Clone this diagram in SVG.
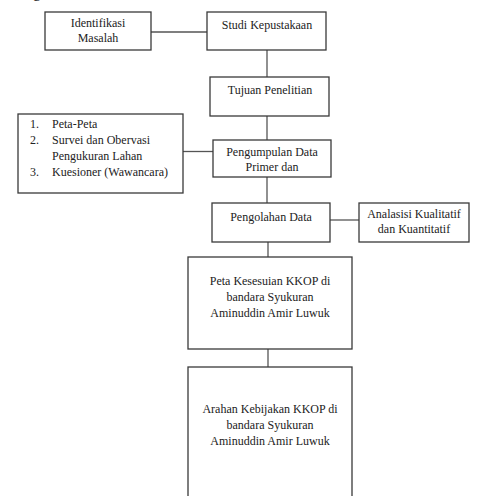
<svg xmlns="http://www.w3.org/2000/svg" width="483" height="496" viewBox="0 0 483 496">
<style>
rect{fill:#fff;stroke:#3a3a3a;stroke-width:1.3}
.c line{stroke:#555;stroke-width:1.3}
text{font-size:12px;fill:#222}
.m{text-anchor:middle}
</style>
<rect x="0" y="0" width="483" height="496" style="fill:#fff;stroke:none"/>
<g font-family="'Liberation Serif', 'Times New Roman', 'DejaVu Serif', serif">
<text x="33" y="-3" style="font-size:16px">g</text>
<g class="c" id="connectors">
<line x1="151" y1="32" x2="207" y2="32"/>
<line x1="267" y1="50" x2="267" y2="77"/>
<line x1="267" y1="116" x2="267" y2="140"/>
<line x1="183" y1="151.5" x2="213" y2="151.5"/>
<line x1="267" y1="177" x2="267" y2="203"/>
<line x1="330" y1="220" x2="359" y2="220"/>
<line x1="268" y1="242" x2="268" y2="257"/>
<line x1="268" y1="349" x2="268" y2="367"/>
</g>
<g id="identifikasi">
<rect x="45" y="12" width="106" height="38"/>
<text class="m" x="98" y="27">Identifikasi</text>
<text class="m" x="98" y="42">Masalah</text>
</g>
<g id="studi">
<rect x="207" y="12" width="119" height="38"/>
<text class="m" x="267" y="29">Studi Kepustakaan</text>
</g>
<g id="tujuan">
<rect x="210" y="77" width="119" height="39"/>
<text class="m" x="270" y="94">Tujuan Penelitian</text>
</g>
<g id="sumber">
<rect x="18" y="114" width="165" height="79"/>
<text x="30" y="128">1.</text><text x="52" y="128">Peta-Peta</text>
<text x="30" y="144">2.</text><text x="52" y="144">Survei dan Obervasi</text>
<text x="52" y="160">Pengukuran Lahan</text>
<text x="30" y="176">3.</text><text x="52" y="176">Kuesioner (Wawancara)</text>
</g>
<g id="pengumpulan">
<rect x="213" y="140" width="118" height="37"/>
<text class="m" x="272" y="156">Pengumpulan Data</text>
<text class="m" x="272" y="171">Primer dan</text>
</g>
<g id="pengolahan">
<rect x="212" y="203" width="118" height="39"/>
<text class="m" x="271" y="221">Pengolahan Data</text>
</g>
<g id="analisis">
<rect x="359" y="203" width="110" height="39"/>
<text class="m" x="414" y="218">Analasisi Kualitatif</text>
<text class="m" x="414" y="233">dan Kuantitatif</text>
</g>
<g id="peta">
<rect x="188" y="257" width="164" height="92"/>
<text class="m" x="270" y="285">Peta Kesesuian KKOP di</text>
<text class="m" x="270" y="301">bandara Syukuran</text>
<text class="m" x="270" y="317">Aminuddin Amir Luwuk</text>
</g>
<g id="arahan">
<rect x="188" y="367" width="164" height="140"/>
<text class="m" x="270" y="413">Arahan Kebijakan KKOP di</text>
<text class="m" x="270" y="429">bandara Syukuran</text>
<text class="m" x="270" y="445">Aminuddin Amir Luwuk</text>
</g>
</g>
</svg>
